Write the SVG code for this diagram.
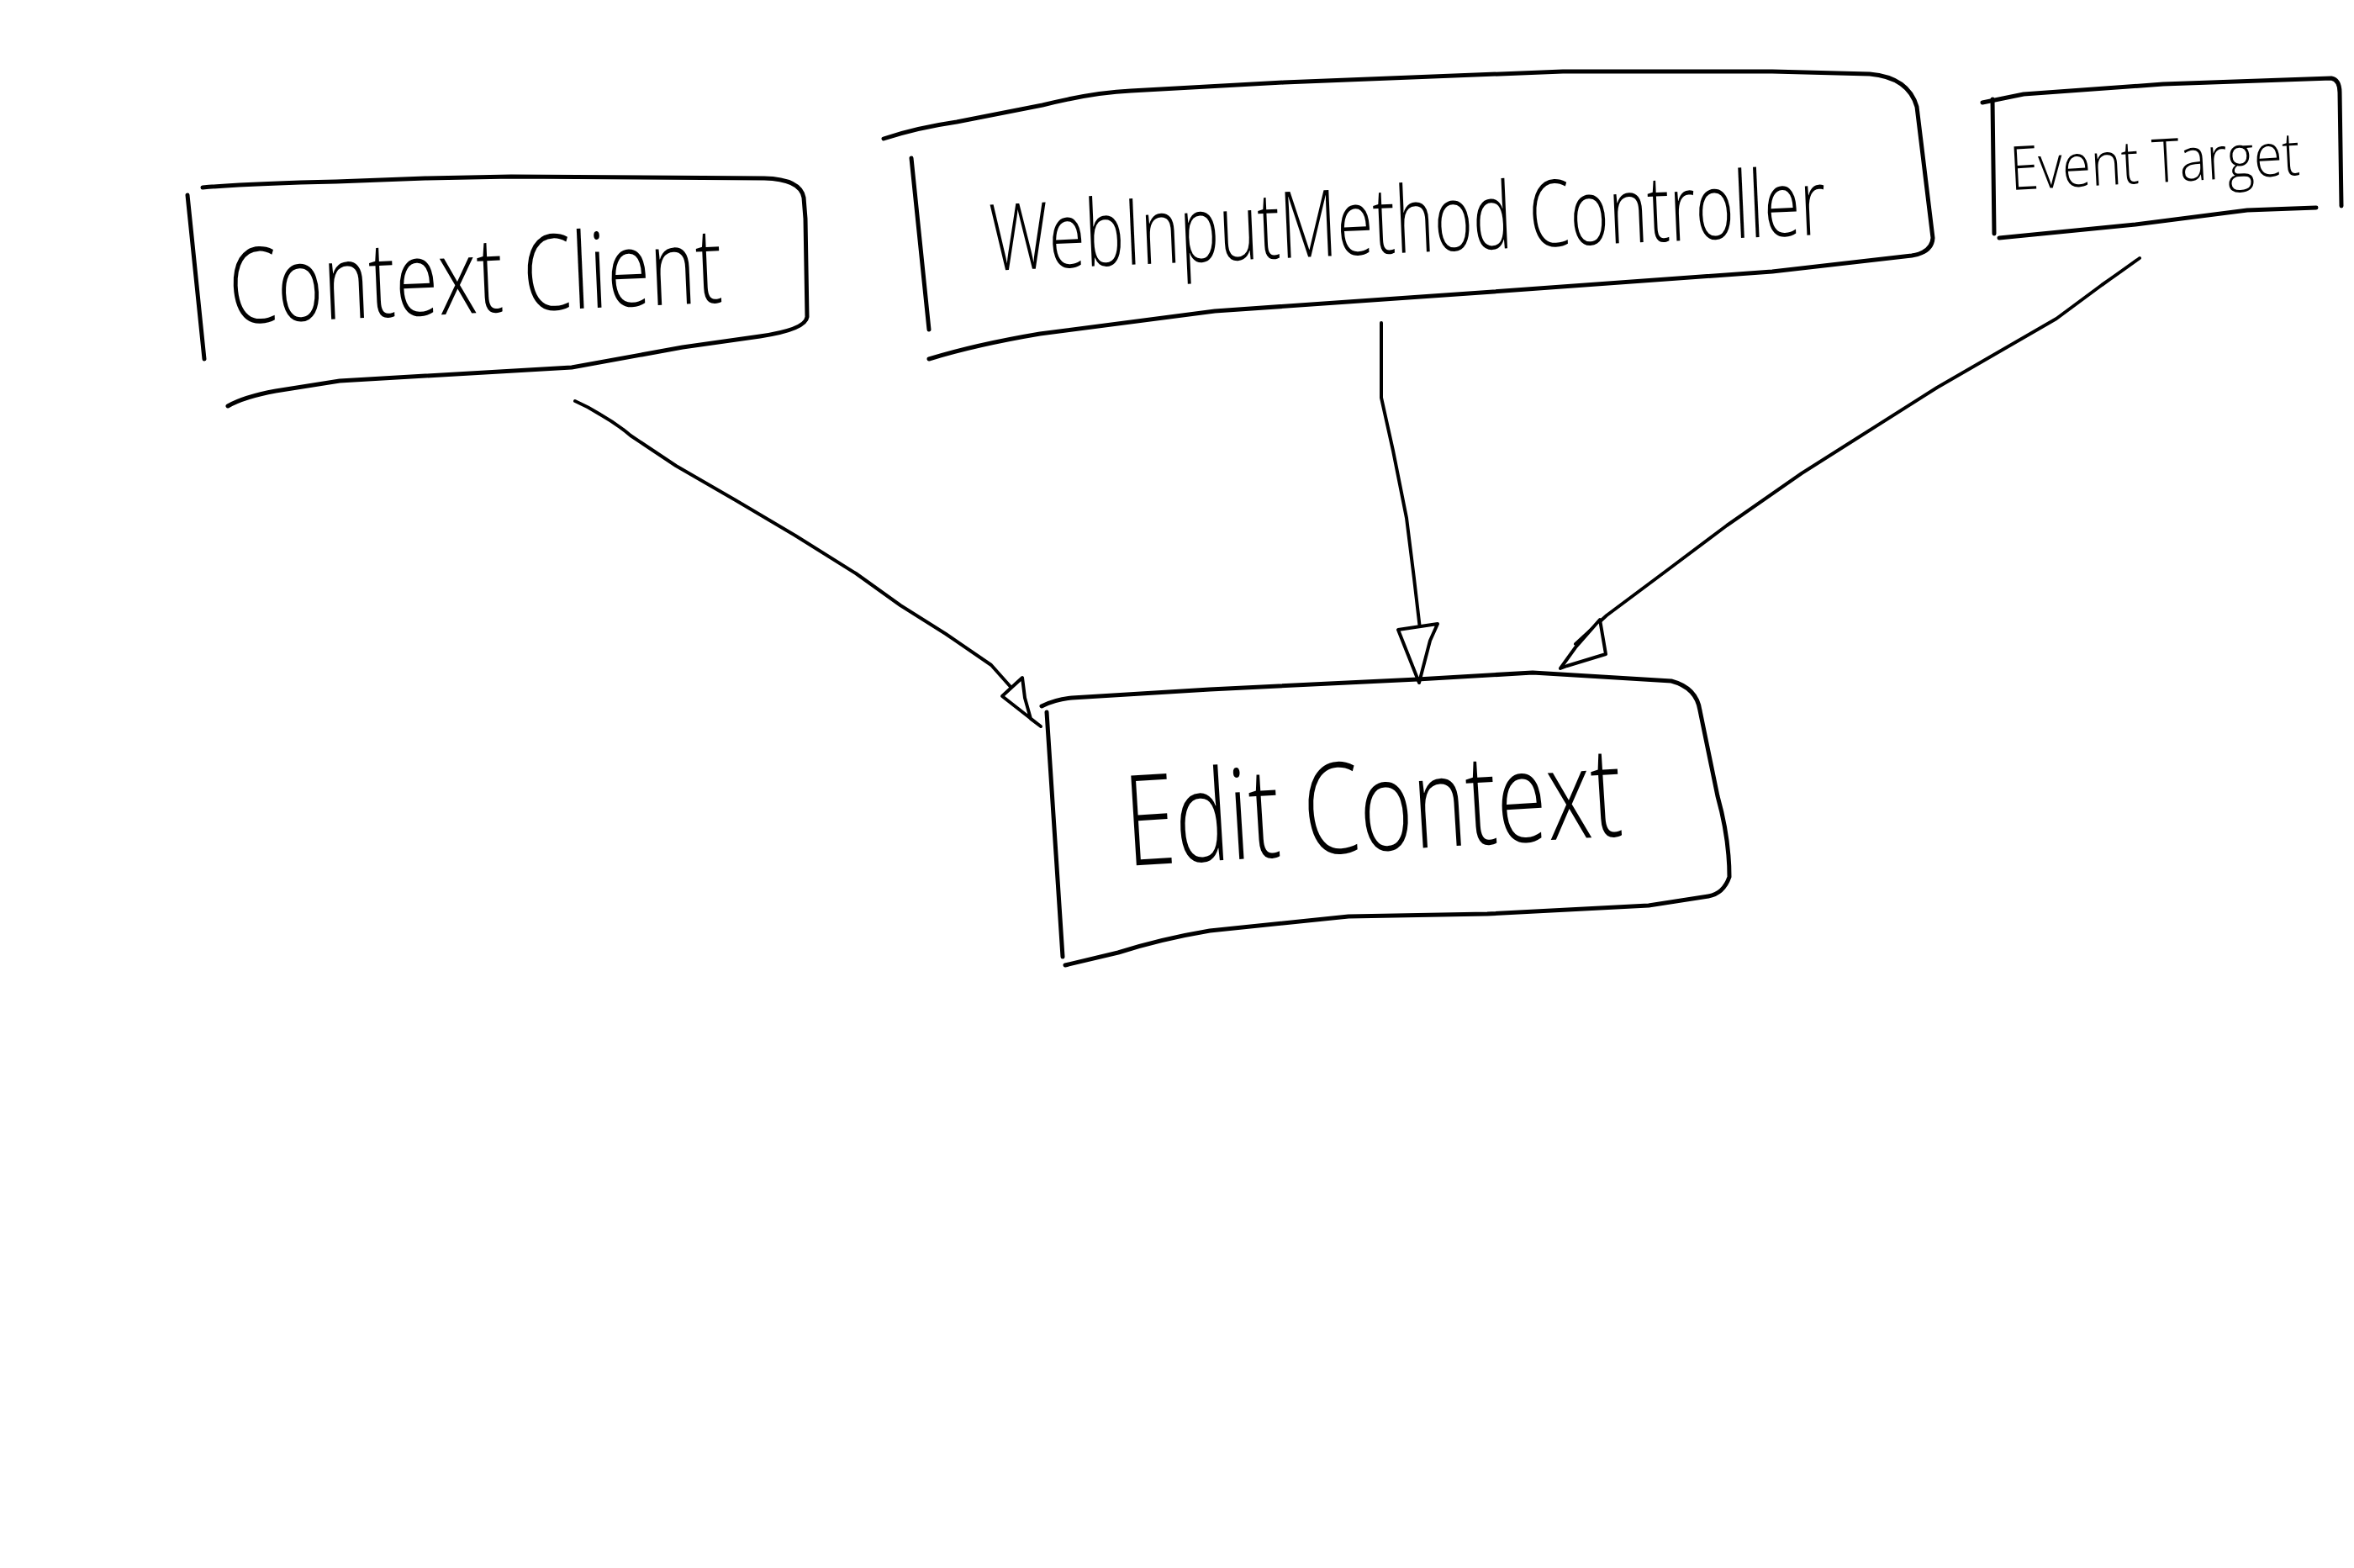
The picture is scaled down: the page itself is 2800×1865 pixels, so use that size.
<svg xmlns="http://www.w3.org/2000/svg" width="2800" height="1865" viewBox="0 0 2800 1865">
<style>
.ink{fill:none;stroke:#000;stroke-width:5;stroke-linecap:round;stroke-linejoin:round}
.wire{fill:none;stroke:#000;stroke-width:4;stroke-linecap:round;stroke-linejoin:round}
.head{fill:#fff;stroke:#000;stroke-width:4;stroke-linejoin:round}
.lbl{font-family:"Open Sans","Lato","Liberation Sans",sans-serif;font-weight:300;fill:#000}
</style>
<rect width="2800" height="1865" fill="#fff"/>
<g id="connectors">
<path class="wire" d="M684,477 Q700,484 714,493 Q735,505 750,518 L804,554 L875,595 L946,637 L1018,682 L1071,720 L1125,754 L1179,791 L1203,818"/>
<polygon class="head" points="1192,828 1216,806 1219,830 1226,855 1238,864"/>
<path class="wire" d="M1643,384 L1643,473 Q1650,505 1657,536 L1673,616 L1682,688 L1689,748"/>
<polygon class="head" points="1663,749 1710,742 1701,762 1688,812"/>
<path class="wire" d="M2545,307 Q2520,325 2500,339 L2446,379 L2375,420 L2304,461 L2214,518 L2143,563 L2054,625 L1982,679 L1911,732 L1874,766"/>
<polygon class="head" points="1903,737 1910,778 1864,792 1856,795 1874,770"/>
</g>
<g id="node-context-client">
<path class="ink" d="M223,232 L243,427"/>
<path class="ink" d="M241,223 Q300,218 400,216 L506,212 L608,210 L909,212 Q952,213 956,235 L958,260 L960,377 Q958,392 904,400 L812,413 L680,437 L506,447 L404,453 L328,465 Q290,472 271,483"/>
<text class="lbl" x="274" y="385" font-size="125" textLength="587" lengthAdjust="spacingAndGlyphs" transform="rotate(-2.5 274 385)">Context Client</text>
</g>
<g id="node-web-input-method-controller">
<path class="ink" d="M1084,188 L1105,392"/>
<path class="ink" d="M1051,165 Q1090,152 1138,145 L1240,125 Q1300,110 1345,108 L1527,98 L1859,85 L2108,85 L2224,88 Q2270,92 2280,127 L2299,283 Q2298,300 2274,304 L2108,323 L1776,347 L1445,370 L1237,397 Q1160,410 1105,427"/>
<text class="lbl" x="1179" y="322" font-size="110" textLength="995" lengthAdjust="spacingAndGlyphs" transform="rotate(-2.5 1179 322)">WebInputMethod Controller</text>
</g>
<g id="node-event-target">
<path class="ink" d="M2370,118 L2372,278"/>
<path class="ink" d="M2358,122 L2407,112 L2573,100 L2773,93 Q2783,95 2783,110 L2785,245"/>
<path class="ink" d="M2378,283 L2540,267 L2673,250 L2755,247"/>
<text class="lbl" x="2392" y="226" font-size="72" textLength="345" lengthAdjust="spacingAndGlyphs" transform="rotate(-3 2392 226)">Event Target</text>
</g>
<g id="node-edit-context">
<path class="ink" d="M1245,847 L1264,1138"/>
<path class="ink" d="M1239,840 Q1255,832 1275,830 L1439,820 L1686,808 L1823,800 L1988,810 Q2018,818 2022,845 L2043,947 Q2057,997 2057,1043 Q2050,1063 2032,1066 L1961,1077 L1769,1087 L1604,1090 L1439,1107 Q1380,1117 1330,1133 L1267,1148"/>
<text class="lbl" x="1341" y="1030" font-size="150" textLength="592" lengthAdjust="spacingAndGlyphs" transform="rotate(-3.5 1341 1030)">Edit Context</text>
</g>
</svg>
